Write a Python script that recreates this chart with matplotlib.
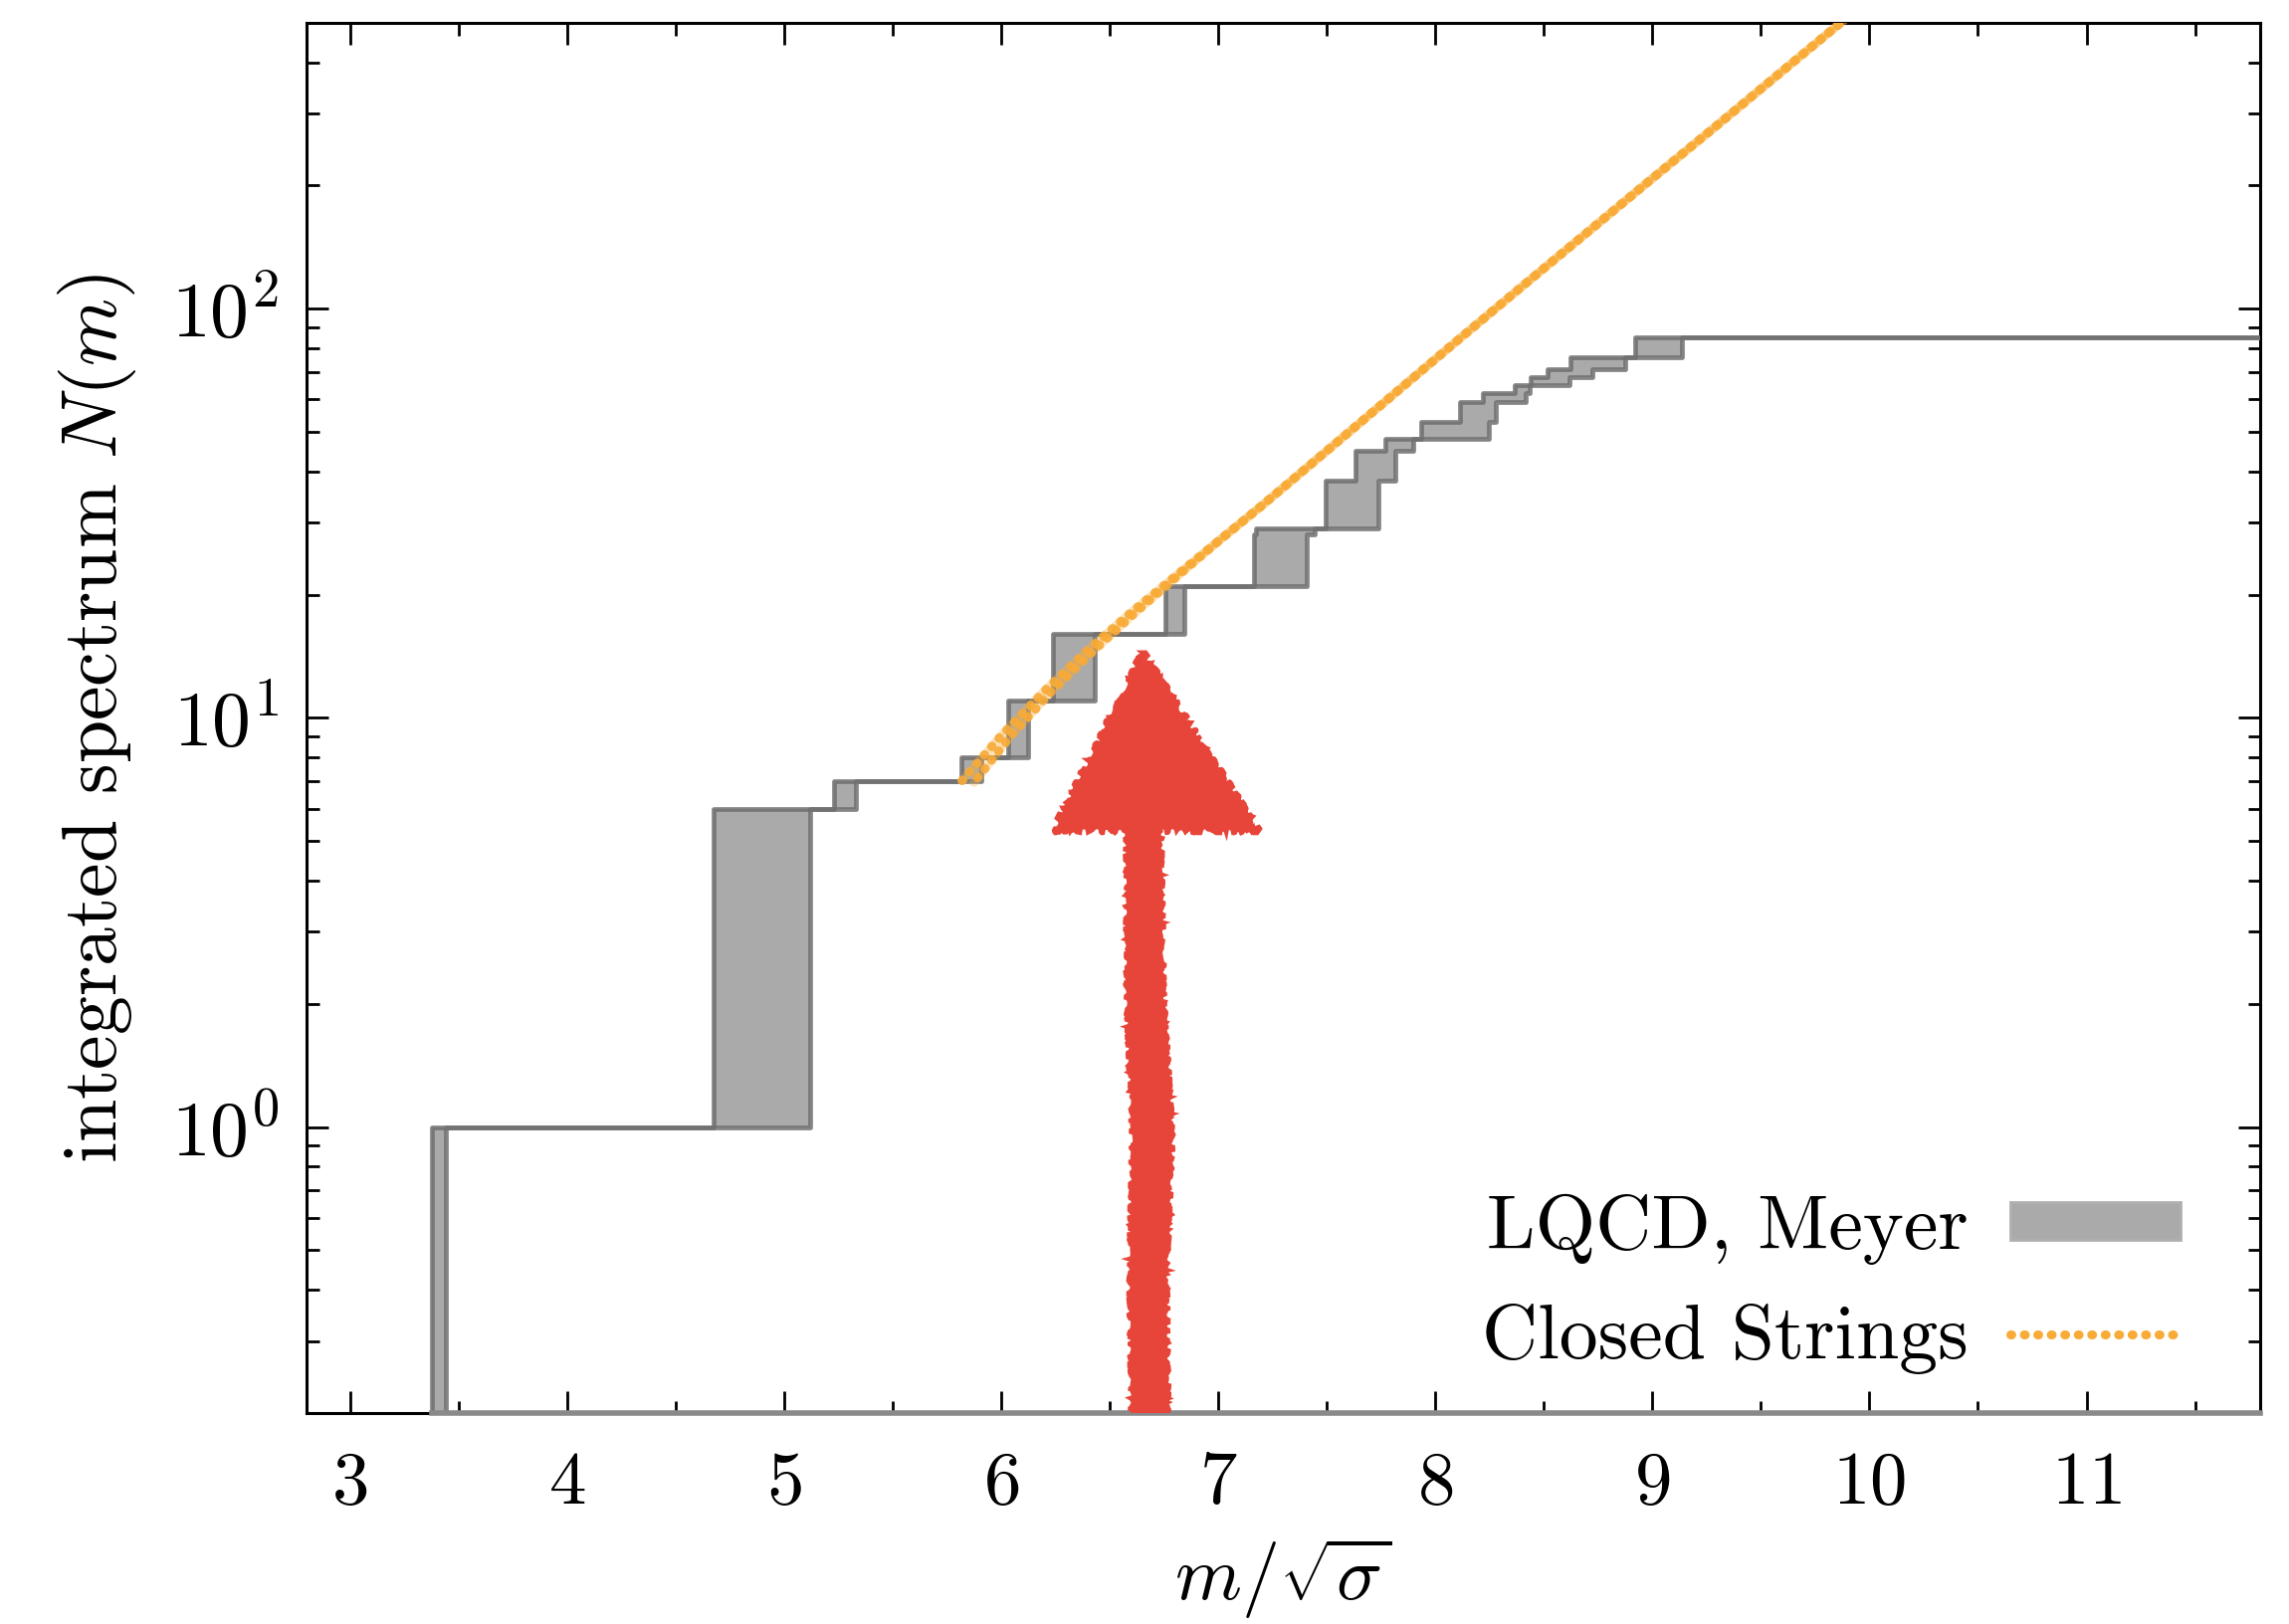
import numpy as np
import matplotlib
matplotlib.use("Agg")
import matplotlib.pyplot as plt
from matplotlib.patches import Polygon, Patch
from matplotlib.lines import Line2D
from matplotlib.ticker import LogLocator, FixedLocator, MultipleLocator

plt.rcParams['font.family'] = 'serif'
plt.rcParams['font.serif'] = ['cmr10', 'DejaVu Serif']
plt.rcParams['mathtext.fontset'] = 'cm'
plt.rcParams['axes.formatter.use_mathtext'] = True

# ---- data: glueball states (mass, error, multiplicity) ----
state_mass = [3.41, 4.898, 5.28, 5.864, 6.078, 6.335, 6.80, 7.286, 7.31, 7.617,
              7.724, 7.835, 8.09, 8.196, 8.318, 8.40, 8.528, 8.62, 8.75, 9.029]
state_err = [0.03, 0.222, 0.05, 0.046, 0.046, 0.095, 0.042, 0.122, 0.135, 0.122,
             0.092, 0.065, 0.156, 0.084, 0.099, 0.035, 0.088, 0.103, 0.126, 0.107]
state_mult = [1, 5, 1, 1, 3, 5, 5, 7, 1, 9, 7, 3, 5, 6, 3, 3, 3, 3, 5, 9]

# closed-string curves (two nearly coincident versions)
string_a_m = [5.82, 6.0, 6.2, 6.4, 6.6, 6.8, 7.0, 7.2, 7.5, 7.8, 8.1, 8.4, 8.7,
              9.0, 9.3, 9.6, 9.9, 10.0]
string_a_N = [7.02, 9.04, 11.64, 14.66, 18.11, 22.13, 27.0, 32.96, 44.9, 61.2, 83.4,
              113.3, 153.5, 208.0, 281.0, 381.0, 516.0, 571.0]
string_b_m = [5.875, 6.045, 6.235, 6.43, 6.62, 6.81, 7.0, 7.2, 7.5, 7.8, 8.1, 8.4, 8.7,
              9.0, 9.3, 9.6, 9.9, 10.0]
string_b_N = [6.95, 9.04, 11.64, 14.66, 18.11, 22.13, 27.0, 32.96, 44.9, 61.2, 83.4,
              113.3, 153.5, 208.0, 281.0, 381.0, 516.0, 571.0]

xlim = (2.8, 11.8)
ylim = (0.2, 500)

x_ticks = [3, 4, 5, 6, 7, 8, 9, 10, 11]

# ---- figure ----
fig = plt.figure(figsize=(23, 16.32), dpi=100)
ax = fig.add_axes([0.1339, 0.1299, 0.9874 - 0.1339, 0.9861 - 0.1299])

mass = np.array(state_mass)
err = np.array(state_err)
mult = np.array(state_mult)
lo_edge = mass - err
hi_edge = mass + err
grid = np.unique(np.concatenate([[xlim[0] - 1], lo_edge, hi_edge, [xlim[1] + 1]]))
N_up = np.array([mult[lo_edge <= g].sum() for g in grid], dtype=float)
N_lo = np.array([mult[hi_edge <= g].sum() for g in grid], dtype=float)
floor = 1e-3
N_up = np.where(N_up > 0, N_up, floor)
N_lo = np.where(N_lo > 0, N_lo, floor)

band_fill = '#aaaaaa'
band_edge = '#6f6f6f'
ax.fill_between(grid, N_lo, N_up, step='post', color=band_fill, lw=0, zorder=2)
ax.step(grid, N_up, where='post', color=band_edge, lw=3.4, zorder=3, alpha=0.85)
ax.step(grid, N_lo, where='post', color=band_edge, lw=3.4, zorder=3, alpha=0.85)
ax.plot([lo_edge.min(), xlim[1]], [ylim[0], ylim[0]], color='#8a8a8a', lw=4,
        zorder=3, clip_on=False)

orange = '#f8ab37'
for k, (mm, nn) in enumerate([(string_a_m, string_a_N), (string_b_m, string_b_N)]):
    ax.plot(mm, nn, color=orange, lw=6.5, alpha=0.3, zorder=4, solid_capstyle='round')
    ax.plot(mm, nn, color=orange, lw=6.5, alpha=0.9, zorder=5,
            linestyle=(0.6 * k, (0.1, 1.15)), dash_capstyle='round')

# ---- axes styling ----
ax.set_xlim(*xlim)
ax.set_yscale('log')
ax.set_ylim(*ylim)
ax.xaxis.set_major_locator(FixedLocator(x_ticks))
ax.xaxis.set_minor_locator(MultipleLocator(0.5))
ax.yaxis.set_major_locator(LogLocator(base=10, numticks=10))
ax.yaxis.set_minor_locator(LogLocator(base=10, subs=np.arange(2, 10), numticks=20))
ax.tick_params(which='both', direction='in', top=True, right=True, width=2.0)
ax.tick_params(which='major', length=16)
ax.tick_params(which='minor', length=9)
ax.tick_params(axis='x', which='major', labelsize=54, pad=28)
ax.tick_params(axis='y', which='major', labelsize=56, pad=20)
for s in ax.spines.values():
    s.set_linewidth(2.2)

ax.set_xlabel(r'$m/\sqrt{\sigma}$', fontsize=55, labelpad=12)
ax.set_ylabel(r'integrated spectrum $N(m)$', fontsize=56, labelpad=24)

# legend
handles = [Patch(facecolor=band_fill, edgecolor='#b0b0b0', lw=2),
           Line2D([], [], color=orange, lw=6.5, linestyle=(0, (0.1, 1.4)),
                  dash_capstyle='round')]
leg = ax.legend(handles, ['LQCD, Meyer', 'Closed Strings'], loc='lower right',
                bbox_to_anchor=(0.995, -0.022), frameon=False, markerfirst=False,
                fontsize=56, handlelength=2.2, handleheight=0.38,
                handletextpad=0.55, labelspacing=0.5)

# hand-drawn red arrow (annotation) in axes coordinates
red = '#e8453a'
head = Polygon([[0.3826, 0.4192], [0.4281, 0.5466], [0.4871, 0.4192]],
               closed=True, transform=ax.transAxes, facecolor=red, edgecolor=red,
               lw=3, zorder=6)
head.set_sketch_params(scale=3, length=40, randomness=20)
shaft = Polygon([[0.4199, 0.4192], [0.4372, 0.4192], [0.4385, 0.30], [0.4430, 0.20],
                 [0.4400, 0.10], [0.4408, 0.0], [0.4225, 0.0], [0.4215, 0.10],
                 [0.4230, 0.20], [0.4200, 0.30]],
                closed=True, transform=ax.transAxes, facecolor=red, edgecolor=red,
                lw=3, zorder=6)
shaft.set_sketch_params(scale=2, length=30, randomness=20)
ax.add_patch(head)
ax.add_patch(shaft)

fig.savefig('out.png', dpi=100)
